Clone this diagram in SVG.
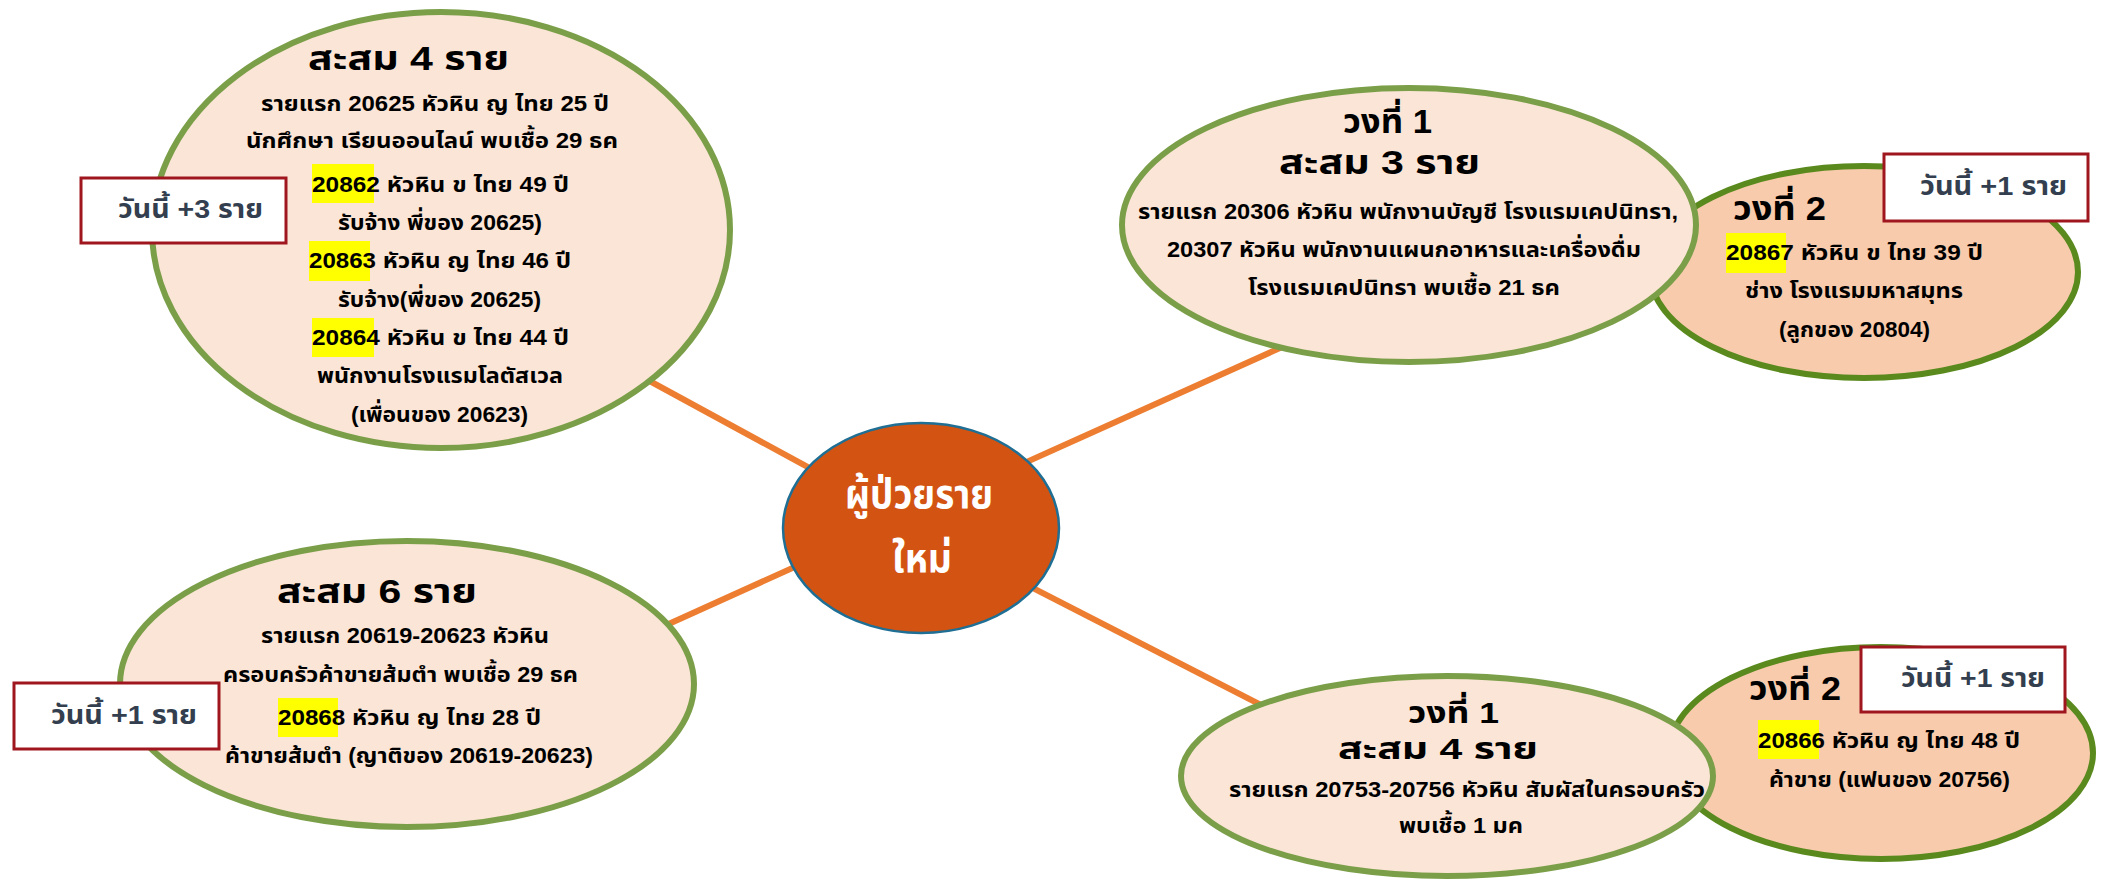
<svg xmlns="http://www.w3.org/2000/svg" width="2101" height="879" viewBox="0 0 2101 879">
<style>
.t{font-family:"Liberation Sans","Noto Sans Thai","Noto Sans",sans-serif;font-weight:bold;fill:#000}
.b{font-size:22px}
.h{font-size:33px}
.hs{font-size:30px}
.box{fill:#fff;stroke:#A0161E;stroke-width:3}
.bt{font-family:"Liberation Sans","Noto Sans Thai","Noto Sans",sans-serif;font-weight:bold;font-size:26px;fill:#333F4F}
.e1{fill:#FBE5D6;stroke:#7B9F49;stroke-width:6}
.e2{fill:#F8CBAD;stroke:#5A8A1E;stroke-width:6}
.hl{fill:#FFFF00}
.c{stroke:#ED7D31;stroke-width:6;fill:none}
</style>
<rect width="2101" height="879" fill="#fff"/>
<g id="connectors">
<line class="c" x1="600" y1="354" x2="850" y2="490"/>
<line class="c" x1="980" y1="483" x2="1300" y2="339"/>
<line class="c" x1="620" y1="646" x2="850" y2="542"/>
<line class="c" x1="980" y1="561" x2="1300" y2="725"/>
</g>
<g id="node-tl">
<ellipse class="e1" cx="441" cy="230" rx="289" ry="218"/>
<text class="t h" x="308" y="70" textLength="201" lengthAdjust="spacingAndGlyphs">สะสม 4 ราย</text>
<text class="t b" x="261" y="111" textLength="348" lengthAdjust="spacingAndGlyphs">รายแรก 20625 หัวหิน ญ ไทย 25 ปี</text>
<text class="t b" x="246" y="148" textLength="372" lengthAdjust="spacingAndGlyphs">นักศึกษา เรียนออนไลน์ พบเชื้อ 29 ธค</text>
<rect class="hl" x="312" y="164" width="62" height="39"/>
<text class="t b" x="312" y="192" textLength="257" lengthAdjust="spacingAndGlyphs">20862 หัวหิน ข ไทย 49 ปี</text>
<text class="t b" x="338" y="230" textLength="204" lengthAdjust="spacingAndGlyphs">รับจ้าง พี่ของ 20625)</text>
<rect class="hl" x="309" y="241" width="61" height="40"/>
<text class="t b" x="309" y="268" textLength="262" lengthAdjust="spacingAndGlyphs">20863 หัวหิน ญ ไทย 46 ปี</text>
<text class="t b" x="338" y="307" textLength="203" lengthAdjust="spacingAndGlyphs">รับจ้าง(พี่ของ 20625)</text>
<rect class="hl" x="312" y="318" width="62" height="39"/>
<text class="t b" x="312" y="345" textLength="257" lengthAdjust="spacingAndGlyphs">20864 หัวหิน ข ไทย 44 ปี</text>
<text class="t b" x="317" y="383" textLength="246" lengthAdjust="spacingAndGlyphs">พนักงานโรงแรมโลตัสเวล</text>
<text class="t b" x="351" y="422" textLength="177" lengthAdjust="spacingAndGlyphs">(เพื่อนของ 20623)</text>
</g>
<g id="badge-tl">
<rect class="box" x="81" y="178" width="205" height="65"/>
<text class="bt" x="118" y="218" textLength="145" lengthAdjust="spacingAndGlyphs">วันนี้ +3 ราย</text>
</g>
<g id="node-bl">
<ellipse class="e1" cx="407" cy="684" rx="287" ry="143"/>
<text class="t h" x="277" y="603" textLength="200" lengthAdjust="spacingAndGlyphs">สะสม 6 ราย</text>
<text class="t b" x="261" y="643" textLength="288" lengthAdjust="spacingAndGlyphs">รายแรก 20619-20623 หัวหิน</text>
<text class="t b" x="223" y="682" textLength="355" lengthAdjust="spacingAndGlyphs">ครอบครัวค้าขายส้มตำ พบเชื้อ 29 ธค</text>
<rect class="hl" x="278" y="698" width="60" height="39"/>
<text class="t b" x="278" y="725" textLength="263" lengthAdjust="spacingAndGlyphs">20868 หัวหิน ญ ไทย 28 ปี</text>
<text class="t b" x="225" y="763" textLength="368" lengthAdjust="spacingAndGlyphs">ค้าขายส้มตำ (ญาติของ 20619-20623)</text>
</g>
<g id="badge-bl">
<rect class="box" x="14" y="683" width="205" height="66"/>
<text class="bt" x="51" y="724" textLength="146" lengthAdjust="spacingAndGlyphs">วันนี้ +1 ราย</text>
</g>
<g id="node-tr2">
<ellipse class="e2" cx="1864" cy="272" rx="214" ry="106"/>
<text class="t h" x="1733" y="220" textLength="93" lengthAdjust="spacingAndGlyphs">วงที่ 2</text>
<rect class="hl" x="1726" y="233" width="60" height="40"/>
<text class="t b" x="1726" y="260" textLength="257" lengthAdjust="spacingAndGlyphs">20867 หัวหิน ข ไทย 39 ปี</text>
<text class="t b" x="1745" y="298" textLength="218" lengthAdjust="spacingAndGlyphs">ช่าง โรงแรมมหาสมุทร</text>
<text class="t b" x="1779" y="337" textLength="151" lengthAdjust="spacingAndGlyphs">(ลูกของ 20804)</text>
</g>
<g id="node-tr1">
<ellipse class="e1" cx="1409" cy="225" rx="287" ry="137"/>
<text class="t h" x="1343" y="133" textLength="89" lengthAdjust="spacingAndGlyphs">วงที่ 1</text>
<text class="t h" x="1279" y="174" textLength="201" lengthAdjust="spacingAndGlyphs">สะสม 3 ราย</text>
<text class="t b" x="1138" y="219" textLength="540" lengthAdjust="spacingAndGlyphs">รายแรก 20306 หัวหิน พนักงานบัญชี โรงแรมเคปนิทรา,</text>
<text class="t b" x="1167" y="257" textLength="474" lengthAdjust="spacingAndGlyphs">20307 หัวหิน พนักงานแผนกอาหารและเครื่องดื่ม</text>
<text class="t b" x="1248" y="295" textLength="312" lengthAdjust="spacingAndGlyphs">โรงแรมเคปนิทรา พบเชื้อ 21 ธค</text>
</g>
<g id="badge-tr">
<rect class="box" x="1884" y="154" width="204" height="67"/>
<text class="bt" x="1920" y="195" textLength="147" lengthAdjust="spacingAndGlyphs">วันนี้ +1 ราย</text>
</g>
<g id="node-br2">
<ellipse class="e2" cx="1881" cy="753" rx="212" ry="106"/>
<text class="t h" x="1749" y="700" textLength="92" lengthAdjust="spacingAndGlyphs">วงที่ 2</text>
<rect class="hl" x="1758" y="720" width="61" height="39"/>
<text class="t b" x="1758" y="748" textLength="262" lengthAdjust="spacingAndGlyphs">20866 หัวหิน ญ ไทย 48 ปี</text>
<text class="t b" x="1769" y="787" textLength="241" lengthAdjust="spacingAndGlyphs">ค้าขาย (แฟนของ 20756)</text>
</g>
<g id="node-br1">
<ellipse class="e1" cx="1447" cy="776" rx="266" ry="100"/>
<text class="t hs" x="1408" y="723" textLength="91" lengthAdjust="spacingAndGlyphs">วงที่ 1</text>
<text class="t hs" x="1338" y="759" textLength="200" lengthAdjust="spacingAndGlyphs">สะสม 4 ราย</text>
<text class="t b" x="1229" y="797" textLength="476" lengthAdjust="spacingAndGlyphs">รายแรก 20753-20756 หัวหิน สัมผัสในครอบครัว</text>
<text class="t b" x="1399" y="833" textLength="124" lengthAdjust="spacingAndGlyphs">พบเชื้อ 1 มค</text>
</g>
<g id="badge-br">
<rect class="box" x="1861" y="647" width="204" height="65"/>
<text class="bt" x="1901" y="687" textLength="144" lengthAdjust="spacingAndGlyphs">วันนี้ +1 ราย</text>
</g>
<g id="node-center">
<ellipse cx="921" cy="528" rx="138" ry="105" fill="#D35412" stroke="#1F6E94" stroke-width="2.5"/>
<text style="font-family:'Liberation Sans','Noto Sans Thai','Noto Sans',sans-serif;font-weight:bold;font-size:40px;fill:#fff"><tspan x="845" y="508" textLength="148" lengthAdjust="spacingAndGlyphs">ผู้ป่วยราย</tspan><tspan x="892" y="572" textLength="60" lengthAdjust="spacingAndGlyphs">ใหม่</tspan></text>
</g>
</svg>
